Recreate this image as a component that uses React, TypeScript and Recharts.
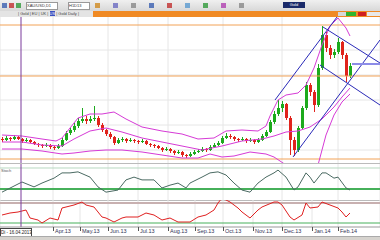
import React from "react";
import { ComposedChart, Bar, Line, XAxis, YAxis, CartesianGrid, ReferenceLine } from "recharts";

// candles, one per bar index
const opens = [61, 60, 62, 61, 63, 61, 59, 60, 58, 56, 55, 54, 55, 53, 52, 54, 60, 67, 70, 74, 79, 81, 79, 81, 82, 75, 70, 66, 63, 57, 60, 61, 59, 60, 59, 58, 59, 56, 55, 54, 52, 50, 51, 49, 47, 48, 45, 44, 46, 48, 49, 51, 50, 53, 55, 57, 62, 64, 63, 61, 60, 61, 59, 60, 58, 60, 64, 68, 78, 86, 92, 96, 82, 60, 50, 72, 92, 115, 108, 95, 132, 165, 152, 145, 148, 158, 145, 124];
const closes = [60, 62, 61, 63, 61, 59, 60, 58, 56, 55, 54, 55, 53, 52, 54, 60, 67, 70, 74, 79, 81, 79, 81, 82, 75, 70, 66, 63, 57, 60, 61, 59, 60, 59, 58, 59, 56, 55, 54, 52, 50, 51, 49, 47, 48, 45, 44, 46, 48, 49, 51, 50, 53, 55, 57, 62, 64, 63, 61, 60, 61, 59, 60, 58, 60, 64, 68, 78, 86, 92, 96, 82, 60, 50, 72, 92, 115, 108, 95, 132, 165, 152, 145, 148, 158, 145, 124, 134];
const highs = [63, 64, 63, 65, 64, 62, 62, 61, 59, 57, 56, 57, 56, 54, 56, 62, 69, 72, 77, 82, 92, 84, 84, 94, 84, 77, 71, 68, 64, 62, 63, 62, 62, 61, 60, 61, 60, 57, 56, 55, 53, 53, 52, 50, 50, 49, 46, 48, 50, 51, 53, 52, 55, 57, 59, 64, 67, 66, 64, 62, 63, 62, 62, 61, 62, 66, 70, 80, 89, 100, 99, 97, 84, 63, 74, 94, 118, 117, 110, 136, 174, 168, 155, 151, 162, 159, 147, 137];
const lows = [58, 59, 59, 60, 60, 57, 58, 57, 55, 53, 52, 53, 51, 50, 51, 53, 59, 65, 68, 72, 77, 76, 77, 79, 73, 68, 64, 61, 55, 56, 58, 57, 58, 57, 56, 57, 55, 53, 52, 51, 48, 49, 47, 45, 46, 43, 42, 43, 45, 47, 48, 48, 49, 52, 54, 56, 61, 61, 59, 58, 59, 57, 58, 56, 57, 59, 63, 67, 76, 84, 88, 80, 45, 44, 48, 70, 90, 104, 88, 93, 130, 148, 141, 142, 146, 141, 118, 122];

// bollinger bands [bar index, value]
const upperBand = [[0, 65], [5, 64], [10, 61], [13.5, 59], [15, 62], [17, 72], [19, 82], [22, 86], [25, 86], [28, 88], [31, 81], [35, 73], [40, 69], [45, 66], [49, 61], [53, 62], [56, 69], [60, 70], [64, 69], [66, 74], [67, 84], [69, 100], [71, 105], [74, 107], [76, 115], [78, 132], [80, 155], [82, 174], [84, 182], [86, 172], [87, 164]];
const middleBand = [[0, 58], [5, 58], [10, 55], [15, 54], [18, 61], [22, 69], [26, 72], [30, 68], [35, 62], [40, 58], [45, 54], [50, 50], [55, 54], [60, 59], [65, 61], [68, 64], [71, 68], [74, 69], [77, 73], [80, 81], [83, 93], [85, 103], [87, 112]];
const lowerBand = [[0, 51], [5, 51], [10, 49], [15, 46], [18, 47], [22, 49], [26, 50], [30, 50], [35, 48], [40, 45], [45, 42], [49, 42], [52, 46], [55, 43], [58, 44], [62, 48], [66, 46], [68, 43], [71, 35], [74, 22], [77, 22], [79, 35], [81, 65], [83, 85], [85, 98], [87, 106]];

// stochastic and rsi style lines [bar index, value]
const stochLine = [[0, 11], [5, 40], [8, 26], [10, 37], [13, 51], [15, 66], [17, 66], [19, 69], [22, 54], [24, 26], [26, 11], [29, 17], [31, 46], [33, 54], [35, 46], [38, 46], [40, 23], [42, 31], [44, 37], [46, 23], [47, 37], [50, 54], [52, 66], [54, 69], [56, 60], [58, 37], [60, 17], [62, 11], [64, 37], [66, 54], [68, 66], [69, 74], [71, 54], [73, 17], [74, 26], [76, 66], [77, 54], [78, 37], [80, 66], [81, 66], [83, 51], [84, 54], [86, 23], [87, 17]];
const rsiLine = [[0, 46], [2, 50], [4, 52], [6, 56], [7, 40], [9, 36], [10, 30], [12, 40], [14, 36], [15, 60], [16, 62], [18, 66], [20, 72], [21, 66], [23, 62], [25, 42], [26, 40], [28, 32], [30, 40], [31, 42], [34, 42], [36, 50], [38, 46], [40, 36], [42, 40], [44, 32], [47, 32], [49, 42], [51, 46], [53, 56], [54, 70], [55, 80], [57, 72], [59, 60], [60, 52], [62, 40], [64, 56], [65, 62], [68, 72], [69, 72], [70, 66], [72, 42], [73, 36], [75, 46], [76, 70], [77, 60], [79, 62], [80, 72], [82, 66], [84, 60], [85, 52], [86, 42], [87, 50]];

// month ticks
const monthTicks = [12.75, 19.5, 26.5, 34, 41.5, 48.25, 55.25, 62.75, 70, 77.5, 84];
const monthLabels = ["Apr.13", "May.13", "Jun.13", "Jul.13", "Aug.13", "Sep.13", "Oct.13", "Nov.13", "Dec.13", "Jan.14", "Feb.14"];

// levels + drawn trend channel
const priceLevels = [175, 124, 41];
const channels = [
  { from: [68.25, 100], to: [83.75, 183] },
  { from: [72.75, 43], to: [94.5, 160] },
  { from: [80.25, 173], to: [94.5, 137] },
  { from: [79.5, 135], to: [94.5, 95] },
];
const crossAt = 4.75;

const candles = opens.map((o, i) => ({ i, o, h: highs[i], l: lows[i], c: closes[i], range: [lows[i], highs[i]] }));
const toPts = (arr: number[][]) => arr.map(([i, v]) => ({ i, v }));

const X_DOMAIN: [number, number] = [-0.5, 94.5];

function Candle(props: any) {
  const { x, y, width, height, payload } = props;
  if (!payload) return null;
  const { o, h, l, c } = payload;
  const top = Math.min(y, y + height);
  const span = Math.abs(height);
  const k = span / (h - l);
  const yO = top + (h - o) * k;
  const yC = top + (h - c) * k;
  const color = c >= o ? "#1daa1d" : "#e0231c";
  const cx = Math.round(x + width / 2);
  return (
    <g>
      <rect x={cx} y={top} width={1} height={span} fill={color} />
      <rect x={cx - 1} y={Math.min(yO, yC)} width={3} height={Math.max(1, Math.abs(yC - yO))} fill={color} />
    </g>
  );
}

function MonthTick(props: any) {
  const { x, y, payload, index } = props;
  return (
    <g>
      <line x1={x + 0.5} x2={x + 0.5} y1={y} y2={y + 4} stroke="#555" strokeWidth={1} />
      <text x={x + 2} y={y + 5.5} fontSize={5.5} fill="#333355" textAnchor="start">{monthLabels[index] ?? payload.value}</text>
    </g>
  );
}

const gridColor = "#e6e6e6";

export default function App() {
  const iconColors = ["#3a5fb0", "#c03030", "#2f9a3a", "#d08a20", "#6a6ac0", "#888", "#3a5fb0", "#c03030", "#5a9ad0", "#2f9a3a", "#b040b0", "#888"];
  return (
    <div style={{ position: "fixed", left: 0, top: 0, width: 380, height: 240, overflow: "hidden", background: "#fff", fontFamily: "'Liberation Sans', Arial, sans-serif" }}>
      {/* toolbar */}
      <div style={{ position: "absolute", left: 0, top: 0, width: 380, height: 11, background: "linear-gradient(#f0f0f0, #d8d8d8)", borderBottom: "1px solid #b8b8b8" }}>
        <div style={{ position: "absolute", left: 26, top: 2, width: 30, height: 6, background: "#fff", border: "1px solid #999", fontSize: 4, lineHeight: "6px", color: "#333", overflow: "hidden" }}>XAU/USD,D1</div>
        <div style={{ position: "absolute", left: 68, top: 2, width: 20, height: 6, background: "#fff", border: "1px solid #999", fontSize: 4, lineHeight: "6px", color: "#333", overflow: "hidden" }}>H1D13</div>
        <div style={{ position: "absolute", left: 283, top: 2, width: 22, height: 6, background: "#1a2a6a", fontSize: 4, lineHeight: "6px", color: "#fff", overflow: "hidden", textAlign: "center" }}>Gold</div>
        {iconColors.map((c, k) => (
          <div key={k} style={{ position: "absolute", left: k < 3 ? 2 + k * 7 : 95 + (k - 3) * 18, top: 3, width: 5, height: 5, background: c, opacity: 0.8 }} />
        ))}
      </div>
      {/* tabs row */}
      <div style={{ position: "absolute", left: 0, top: 11, width: 93, height: 6, background: "#e4e4e4", fontSize: 4, lineHeight: "6px", color: "#444", whiteSpace: "nowrap", overflow: "hidden" }}>
        <span style={{ marginLeft: 18 }}>| Gold | EU | UK | </span>
        <span style={{ background: "#3a4fc0", color: "#fff" }}>US</span>
        <span> | Gold Daily |</span>
      </div>
      <div style={{ position: "absolute", left: 93, top: 11, width: 287, height: 6, background: "#f08a24" }}>
        <div style={{ position: "absolute", left: 245, top: 1, width: 8, height: 4, background: "#d8d8d8" }} />
        <div style={{ position: "absolute", left: 253, top: 1, width: 10, height: 4, background: "#2fb52f" }} />
        <div style={{ position: "absolute", left: 265, top: 1, width: 8, height: 4, background: "#d02020" }} />
        <div style={{ position: "absolute", left: 274, top: 1, width: 13, height: 4, background: "#e8e8e8" }} />
      </div>

      {/* main price panel */}
      <div style={{ position: "absolute", left: 0, top: 17 }}>
        <ComposedChart width={380} height={146} data={candles} margin={{ top: 0, right: 0, bottom: 0, left: 0 }}>
          <CartesianGrid stroke={gridColor} horizontalPoints={[33, 58, 83, 108, 133]} />
          <XAxis type="number" dataKey="i" domain={X_DOMAIN} ticks={monthTicks} allowDataOverflow hide />
          <YAxis domain={[37, 183]} allowDataOverflow hide />
          {priceLevels.map((p) => (
            <ReferenceLine key={p} y={p} stroke="#f2a256" strokeWidth={1} />
          ))}
          <Line data={toPts(upperBand)} dataKey="v" stroke="#d63ad6" strokeWidth={1} dot={false} isAnimationActive={false} />
          <Line data={toPts(middleBand)} dataKey="v" stroke="#d63ad6" strokeWidth={1} dot={false} isAnimationActive={false} />
          <Line data={toPts(lowerBand)} dataKey="v" stroke="#d63ad6" strokeWidth={1} dot={false} isAnimationActive={false} />
          <Bar dataKey="range" barSize={3} shape={Candle} isAnimationActive={false} />
          {channels.map((s, k) => (
            <ReferenceLine key={k} segment={[{ x: s.from[0], y: s.from[1] }, { x: s.to[0], y: s.to[1] }]} stroke="#2a2ab8" strokeWidth={1} ifOverflow="hidden" />
          ))}
          <ReferenceLine segment={[{ x: 87.5, y: 136 }, { x: 94.5, y: 136 }]} stroke="#8c8ce8" strokeWidth={2} ifOverflow="hidden" />
          <ReferenceLine x={crossAt} stroke="#7b3b9b" strokeWidth={1} />
        </ComposedChart>
      </div>

      {/* stochastic panel */}
      <div style={{ position: "absolute", left: 0, top: 163, width: 380, height: 1, background: "#bbb" }} />
      <div style={{ position: "absolute", left: 0, top: 164 }}>
        <ComposedChart width={380} height={36} margin={{ top: 0, right: 0, bottom: 0, left: 0 }}>
          <CartesianGrid stroke={gridColor} horizontal={false} />
          <XAxis type="number" dataKey="i" domain={X_DOMAIN} ticks={monthTicks} allowDataOverflow hide />
          <YAxis domain={[-11.4, 91.4]} allowDataOverflow hide />
          <ReferenceLine y={80} stroke="#b8d8c0" strokeWidth={1} />
          <ReferenceLine y={20} stroke="#46b05a" strokeWidth={2} />
          <Line data={toPts(stochLine)} dataKey="v" stroke="#4a6a62" strokeWidth={1} dot={false} isAnimationActive={false} />
          <ReferenceLine x={crossAt} stroke="#7b3b9b" strokeWidth={1} />
        </ComposedChart>
        <div style={{ position: "absolute", left: 1, top: 4, fontSize: 4, color: "#555" }}>Stoch</div>
      </div>

      {/* rsi panel + time axis */}
      <div style={{ position: "absolute", left: 0, top: 200, width: 380, height: 1, background: "#bbb" }} />
      <div style={{ position: "absolute", left: 0, top: 200 }}>
        <ComposedChart width={380} height={36} margin={{ top: 0, right: 0, bottom: 0, left: 0 }}>
          <CartesianGrid stroke={gridColor} horizontal={false} />
          <XAxis type="number" dataKey="i" domain={X_DOMAIN} ticks={monthTicks} allowDataOverflow height={9} axisLine={{ stroke: "#999" }} tickLine={false} tickSize={0} tickMargin={0} tick={<MonthTick />} interval={0} />
          <YAxis domain={[22, 76]} allowDataOverflow hide />
          <ReferenceLine y={70} stroke="#c8b0b0" strokeWidth={2} />
          <ReferenceLine y={30} stroke="#46b05a" strokeWidth={1} />
          <Line data={toPts(rsiLine)} dataKey="v" stroke="#e02020" strokeWidth={1} dot={false} isAnimationActive={false} />
          <ReferenceLine x={crossAt} stroke="#7b3b9b" strokeWidth={1} />
        </ComposedChart>
      </div>
      <div style={{ position: "absolute", left: 0, top: 228, width: 30, height: 7, border: "1px solid #444", background: "#fff", fontSize: 4.5, lineHeight: "7px", color: "#222", whiteSpace: "nowrap", overflow: "hidden" }}>Di - 16.04.2013</div>
      <div style={{ position: "absolute", left: 0, top: 236, width: 380, height: 4, background: "#d6d3ce", borderTop: "1px solid #aaa" }} />
    </div>
  );
}
